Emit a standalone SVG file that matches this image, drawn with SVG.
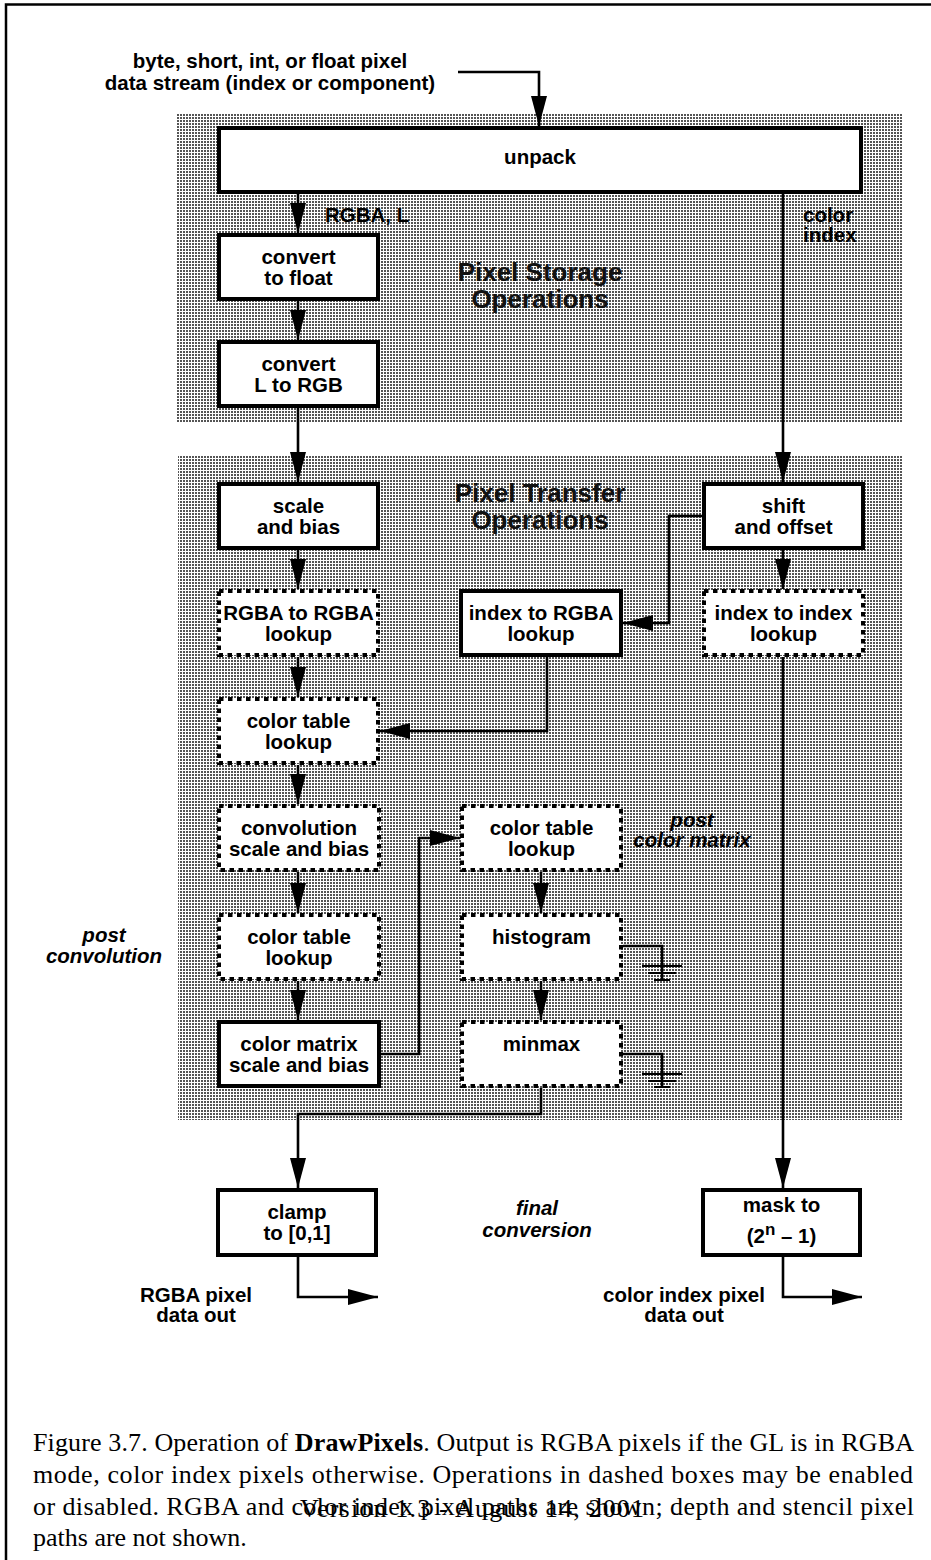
<svg xmlns="http://www.w3.org/2000/svg" width="931" height="1560" viewBox="0 0 931 1560">
<defs>
<pattern id="ht" patternUnits="userSpaceOnUse" width="3" height="3">
<rect width="3" height="3" fill="#fff"/>
<rect width="2" height="2" fill="#555"/>
</pattern>
<marker id="ah" markerUnits="userSpaceOnUse" markerWidth="30" markerHeight="16" refX="30" refY="8" orient="auto" viewBox="0 0 30 16">
<path d="M0,0 L30,8 L0,16 z" fill="#000"/>
</marker>
</defs>
<style>
.box{fill:#fff;stroke:#000;stroke-width:4}
.dash{fill:#fff;stroke:#000;stroke-width:4;stroke-dasharray:4.5 4.5}
.t{font-family:"Liberation Sans",Arial,Helvetica,sans-serif;font-weight:bold;font-size:20.5px;text-anchor:middle;fill:#000}
.ti{font-family:"Liberation Sans",Arial,Helvetica,sans-serif;font-weight:bold;font-style:italic;font-size:20.5px;text-anchor:middle;fill:#000}
.big{font-family:"Liberation Sans",Arial,Helvetica,sans-serif;font-weight:bold;font-size:26px;text-anchor:middle;fill:#111}
.lbl{font-family:"Liberation Sans",Arial,Helvetica,sans-serif;font-weight:bold;font-size:20.5px;fill:#000}
.cap{font-family:"Liberation Serif","Times New Roman",serif;font-size:26px;fill:#000}
.c{fill:none;stroke:#000;stroke-width:2.6}
.g{fill:none;stroke:#000;stroke-width:2}
</style>
<rect width="931" height="1560" fill="#fff"/>
<path d="M6,1560 V4.5 H931" fill="none" stroke="#000" stroke-width="2.5"/>
<g id="regions">
<rect x="176" y="113" width="726" height="310" fill="url(#ht)"/>
<rect x="178" y="455" width="724" height="665" fill="url(#ht)"/>
<text class="big" x="540" y="281">Pixel Storage</text>
<text class="big" x="540" y="308">Operations</text>
<text class="big" x="540" y="502">Pixel Transfer</text>
<text class="big" x="540" y="529">Operations</text>
</g>
<g id="connectors">
<path class="c" d="M458,72 H539 V126" marker-end="url(#ah)"/>
<path class="c" d="M298,194 V233" marker-end="url(#ah)"/>
<path class="c" d="M298,301 V340" marker-end="url(#ah)"/>
<path class="c" d="M298,408 V482" marker-end="url(#ah)"/>
<path class="c" d="M783,194 V482" marker-end="url(#ah)"/>
<path class="c" d="M702,516 H669 V623 H623" marker-end="url(#ah)"/>
<path class="c" d="M783,550 V589" marker-end="url(#ah)"/>
<path class="c" d="M298,550 V589" marker-end="url(#ah)"/>
<path class="c" d="M298,657 V697" marker-end="url(#ah)"/>
<path class="c" d="M547,657 V731 H380" marker-end="url(#ah)"/>
<path class="c" d="M298,765 V804" marker-end="url(#ah)"/>
<path class="c" d="M298,872 V913" marker-end="url(#ah)"/>
<path class="c" d="M298,981 V1020" marker-end="url(#ah)"/>
<path class="c" d="M380,1054 H419 V838 H460" marker-end="url(#ah)"/>
<path class="c" d="M541,872 V913" marker-end="url(#ah)"/>
<path class="c" d="M541,981 V1020" marker-end="url(#ah)"/>
<path class="c" d="M623,946 H662 V980"/>
<path class="g" d="M642,966 H682 M648,973 H676 M654,980 H670"/>
<path class="c" d="M623,1054 H662 V1087"/>
<path class="g" d="M642,1074 H682 M648,1081 H676 M654,1087 H670"/>
<path class="c" d="M541,1088 V1114 H298 V1188" marker-end="url(#ah)"/>
<path class="c" d="M783,657 V1188" marker-end="url(#ah)"/>
<path class="c" d="M298,1256 V1297 H378" marker-end="url(#ah)"/>
<path class="c" d="M783,1256 V1297 H862" marker-end="url(#ah)"/>
</g>
<g id="labels">
<text class="t" x="270" y="68">byte, short, int, or float pixel</text>
<text class="t" x="270" y="90">data stream (index or component)</text>
<text class="lbl" x="325" y="222">RGBA, L</text>
<text class="lbl" x="803" y="222">color</text>
<text class="lbl" x="803" y="242">index</text>
<text class="ti" x="104" y="942">post</text>
<text class="ti" x="104" y="963">convolution</text>
<text class="ti" x="692" y="827">post</text>
<text class="ti" x="692" y="847">color matrix</text>
<text class="ti" x="537" y="1215">final</text>
<text class="ti" x="537" y="1237">conversion</text>
<text class="t" x="196" y="1302">RGBA pixel</text>
<text class="t" x="196" y="1322">data out</text>
<text class="t" x="684" y="1302">color index pixel</text>
<text class="t" x="684" y="1322">data out</text>
</g>
<g id="n-unpack"><rect class="box" x="219" y="128" width="642" height="64"/><text class="t" x="540" y="164">unpack</text></g>
<g id="n-convfloat"><rect class="box" x="219" y="235" width="159" height="64"/><text class="t" x="298.5" y="264">convert</text><text class="t" x="298.5" y="285">to float</text></g>
<g id="n-convL"><rect class="box" x="219" y="342" width="159" height="64"/><text class="t" x="298.5" y="371">convert</text><text class="t" x="298.5" y="392">L to RGB</text></g>
<g id="n-scale"><rect class="box" x="219" y="484" width="159" height="64"/><text class="t" x="298.5" y="513">scale</text><text class="t" x="298.5" y="534">and bias</text></g>
<g id="n-shift"><rect class="box" x="704" y="484" width="159" height="64"/><text class="t" x="783.5" y="513">shift</text><text class="t" x="783.5" y="534">and offset</text></g>
<g id="n-rgba2rgba"><rect class="dash" x="219" y="591" width="159" height="64"/><text class="t" x="298.5" y="620">RGBA to RGBA</text><text class="t" x="298.5" y="641">lookup</text></g>
<g id="n-idx2rgba"><rect class="box" x="461" y="591" width="160" height="64"/><text class="t" x="541" y="620">index to RGBA</text><text class="t" x="541" y="641">lookup</text></g>
<g id="n-idx2idx"><rect class="dash" x="704" y="591" width="159" height="64"/><text class="t" x="783.5" y="620">index to index</text><text class="t" x="783.5" y="641">lookup</text></g>
<g id="n-ct1"><rect class="dash" x="219" y="699" width="159" height="64"/><text class="t" x="298.5" y="728">color table</text><text class="t" x="298.5" y="749">lookup</text></g>
<g id="n-convsb"><rect class="dash" x="219" y="806" width="160" height="64"/><text class="t" x="299" y="835">convolution</text><text class="t" x="299" y="856">scale and bias</text></g>
<g id="n-ct2"><rect class="dash" x="219" y="915" width="160" height="64"/><text class="t" x="299" y="944">color table</text><text class="t" x="299" y="965">lookup</text></g>
<g id="n-cm"><rect class="box" x="219" y="1022" width="160" height="64"/><text class="t" x="299" y="1051">color matrix</text><text class="t" x="299" y="1072">scale and bias</text></g>
<g id="n-ct3"><rect class="dash" x="462" y="806" width="159" height="64"/><text class="t" x="541.5" y="835">color table</text><text class="t" x="541.5" y="856">lookup</text></g>
<g id="n-hist"><rect class="dash" x="462" y="915" width="159" height="64"/><text class="t" x="541.5" y="944">histogram</text></g>
<g id="n-minmax"><rect class="dash" x="462" y="1022" width="159" height="64"/><text class="t" x="541.5" y="1051">minmax</text></g>
<g id="n-clamp"><rect class="box" x="218" y="1190" width="158" height="65"/><text class="t" x="297" y="1219">clamp</text><text class="t" x="297" y="1240">to [0,1]</text></g>
<g id="n-mask"><rect class="box" x="703" y="1190" width="157" height="65"/><text class="t" x="781.5" y="1212">mask to</text><text class="t" x="781.5" y="1243">(2<tspan dy="-8" font-size="17px">n</tspan><tspan dy="8"> – 1)</tspan></text></g>
<g id="caption">
<text class="cap" x="33" y="1451" textLength="881" lengthAdjust="spacing">Figure 3.7. Operation of <tspan font-weight="bold">DrawPixels</tspan>. Output is RGBA pixels if the GL is in RGBA</text>
<text class="cap" x="33" y="1483" textLength="880" lengthAdjust="spacing">mode, color index pixels otherwise.  Operations in dashed boxes may be enabled</text>
<text class="cap" x="33" y="1515" textLength="881" lengthAdjust="spacing">or disabled.  RGBA and color index pixel paths are shown; depth and stencil pixel</text>
<text class="cap" x="33" y="1546">paths are not shown.</text>
<text class="cap" x="300" y="1517" textLength="344" lengthAdjust="spacing">Version 1.3 - August 14, 2001</text>
</g>
</svg>
